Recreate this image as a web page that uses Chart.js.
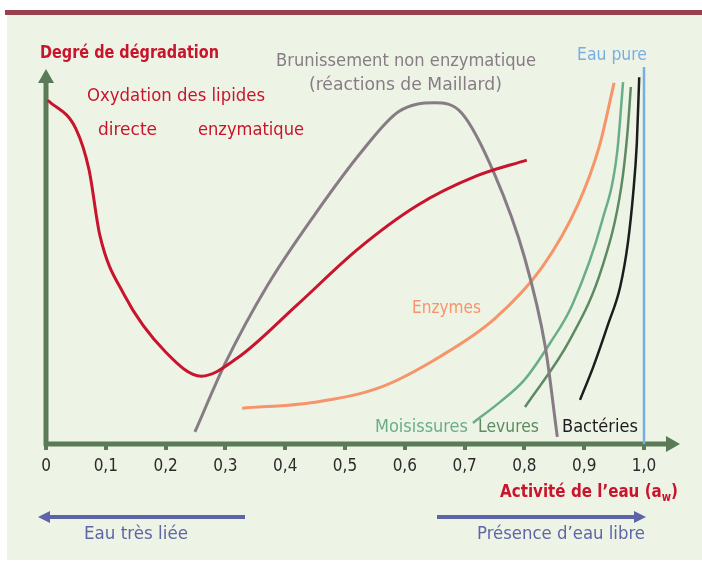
<!DOCTYPE html>
<html>
<head>
<meta charset="utf-8">
<script src="https://cdn.jsdelivr.net/npm/chart.js@4.4.1/dist/chart.umd.min.js"></script>
<style>
  html, body { margin: 0; padding: 0; background: #fff; }
  canvas { display: block; }
</style>
</head>
<body>
<canvas id="awChart" width="702" height="561"></canvas>
<script>
// Données (x = activité de l'eau, y = degré de dégradation, échelle arbitraire 0-100)
const tickLabels = ['0', '0,1', '0,2', '0,3', '0,4', '0,5', '0,6', '0,7', '0,8', '0,9', '1,0'];

const lipidesX = [0.003, 0.05, 0.072, 0.09, 0.13, 0.20, 0.26, 0.32, 0.42, 0.52, 0.62, 0.72, 0.804];
const lipidesY = [91.2, 83.6, 72.7, 55.4, 39.8, 24.4, 18.0, 22.8, 36.9, 51.5, 63.2, 71.1, 75.3];

const maillardX = [0.249, 0.30, 0.37, 0.45, 0.53, 0.59, 0.65, 0.695, 0.75, 0.80, 0.835, 0.855];
const maillardY = [3.2, 21.5, 42.0, 61.0, 78.0, 88.2, 90.5, 87.8, 71.6, 49.6, 25.7, 1.9];

const enzymesX = [0.328, 0.45, 0.56, 0.66, 0.75, 0.83, 0.89, 0.925, 0.95];
const enzymesY = [9.5, 11.1, 15.1, 23.3, 33.2, 47.0, 63.7, 78.8, 95.8];

const moisissuresX = [0.714, 0.759, 0.80, 0.843, 0.88, 0.93, 0.955, 0.965];
const moisissuresY = [5.6, 11.1, 17.0, 26.8, 36.9, 59.2, 77.2, 96.0];

const levuresX = [0.801, 0.876, 0.93, 0.962, 0.972, 0.978];
const levuresY = [9.8, 27.6, 46.9, 68.2, 82.0, 94.7];

const bacteriesX = [0.893, 0.915, 0.94, 0.96, 0.973, 0.982, 0.988, 0.992];
const bacteriesY = [11.7, 20.4, 31.8, 41.6, 53.3, 66.6, 79.8, 97.3];

const eauPureX = [1.0, 1.0];
const eauPureY = [0, 100];

const FONT = "'DejaVu Sans Condensed', 'DejaVu Sans', sans-serif";
const GREEN_AXIS = '#5a7a58';
const RED = '#c8142c';

function pts(xs, ys) {
  return xs.map((x, i) => ({ x: x, y: ys[i] }));
}

function courbe(xs, ys, color, width) {
  return {
    data: pts(xs, ys),
    borderColor: color,
    borderWidth: width,
    pointRadius: 0,
    fill: false,
    clip: false,
    cubicInterpolationMode: 'monotone'
  };
}

// texte ajusté à une largeur donnée
function fitText(ctx, str, left, right, cy, font, color) {
  ctx.save();
  ctx.font = font;
  ctx.fillStyle = color;
  ctx.textBaseline = 'middle';
  ctx.textAlign = 'left';
  const w = ctx.measureText(str).width;
  ctx.translate(left, cy);
  ctx.scale((right - left) / w, 1);
  ctx.fillText(str, 0, 0);
  ctx.restore();
}

function arrowHead(ctx, tipX, tipY, dir, len, half, color) {
  ctx.fillStyle = color;
  ctx.beginPath();
  if (dir === 'up') {
    ctx.moveTo(tipX, tipY);
    ctx.lineTo(tipX - half, tipY + len);
    ctx.lineTo(tipX + half, tipY + len);
  } else if (dir === 'right') {
    ctx.moveTo(tipX, tipY);
    ctx.lineTo(tipX - len, tipY - half);
    ctx.lineTo(tipX - len, tipY + half);
  } else {
    ctx.moveTo(tipX, tipY);
    ctx.lineTo(tipX + len, tipY - half);
    ctx.lineTo(tipX + len, tipY + half);
  }
  ctx.closePath();
  ctx.fill();
}

const decor = {
  id: 'decor',
  beforeDraw(chart) {
    const ctx = chart.ctx;
    ctx.save();
    ctx.fillStyle = '#ffffff';
    ctx.fillRect(0, 0, chart.width, chart.height);
    ctx.fillStyle = '#eef4e5';
    ctx.fillRect(7, 15, chart.width - 7, 545);
    ctx.fillStyle = '#99404e';
    ctx.fillRect(5, 10, chart.width - 5, 5);
    ctx.restore();
  },
  beforeDatasetsDraw(chart) {
    const ctx = chart.ctx;
    const x0 = chart.scales.x.getPixelForValue(0);
    const y0 = chart.scales.y.getPixelForValue(0);
    ctx.save();
    ctx.strokeStyle = GREEN_AXIS;
    ctx.lineWidth = 5;
    ctx.beginPath();
    ctx.moveTo(x0, y0 + 2);
    ctx.lineTo(x0, 82);
    ctx.moveTo(x0 - 2, y0);
    ctx.lineTo(666, y0);
    ctx.stroke();
    arrowHead(ctx, x0, 69, 'up', 14, 8, GREEN_AXIS);
    arrowHead(ctx, 680, y0, 'right', 14, 8, GREEN_AXIS);
    ctx.restore();
  },
  afterDatasetsDraw(chart) {
    const ctx = chart.ctx;
    ctx.save();
    fitText(ctx, 'Degré de dégradation', 40, 219, 53, 'bold 18px ' + FONT, RED);
    fitText(ctx, 'Brunissement non enzymatique', 276, 536, 61, '18px ' + FONT, '#877c85');
    fitText(ctx, '(réactions de Maillard)', 309, 502, 85, '18px ' + FONT, '#877c85');
    fitText(ctx, 'Eau pure', 577, 647, 55, '18px ' + FONT, '#79aee2');
    fitText(ctx, 'Oxydation des lipides', 87, 265, 96, '18px ' + FONT, RED);
    fitText(ctx, 'directe', 98, 157, 130, '18px ' + FONT, RED);
    fitText(ctx, 'enzymatique', 198, 304, 130, '18px ' + FONT, RED);
    fitText(ctx, 'Enzymes', 412, 481, 308, '18px ' + FONT, '#f7946a');
    fitText(ctx, 'Moisissures', 375, 468, 427, '18px ' + FONT, '#6aae88');
    fitText(ctx, 'Levures', 478, 539, 427, '18px ' + FONT, '#5e8a62');
    fitText(ctx, 'Bactéries', 562, 638, 427, '18px ' + FONT, '#1c1c1c');

    // titre de l'axe x avec indice
    const main = 'Activité de l’eau (a';
    const fMain = 'bold 18px ' + FONT;
    const fSub = 'bold 12px ' + FONT;
    ctx.font = fMain;
    const wMain = ctx.measureText(main).width;
    const wClose = ctx.measureText(')').width;
    ctx.font = fSub;
    const wSub = ctx.measureText('w').width;
    const total = wMain + wSub + wClose;
    const left = 500, right = 678, cy = 492;
    ctx.translate(left, cy);
    ctx.scale((right - left) / total, 1);
    ctx.fillStyle = RED;
    ctx.textBaseline = 'middle';
    ctx.font = fMain;
    ctx.fillText(main, 0, 0);
    ctx.fillText(')', wMain + wSub, 0);
    ctx.font = fSub;
    ctx.fillText('w', wMain, 6);
    ctx.setTransform(1, 0, 0, 1, 0, 0);

    // flèches du bas
    const blue = '#5e64a8';
    ctx.strokeStyle = blue;
    ctx.lineWidth = 4;
    ctx.beginPath();
    ctx.moveTo(48, 517);
    ctx.lineTo(245, 517);
    ctx.moveTo(437, 517);
    ctx.lineTo(636, 517);
    ctx.stroke();
    arrowHead(ctx, 38, 517, 'left', 12, 6, blue);
    arrowHead(ctx, 646, 517, 'right', 12, 6, blue);
    fitText(ctx, 'Eau très liée', 84, 188, 534, '18px ' + FONT, '#5f66a8');
    fitText(ctx, 'Présence d’eau libre', 477, 645, 534, '18px ' + FONT, '#5f66a8');
    ctx.restore();
  }
};

const datasets = [
  courbe(lipidesX, lipidesY, RED, 3),
  courbe(maillardX, maillardY, '#877c85', 3),
  courbe(enzymesX, enzymesY, '#f7946a', 3),
  courbe(moisissuresX, moisissuresY, '#6aae88', 2.5),
  courbe(levuresX, levuresY, '#5e8a62', 2.5),
  courbe(bacteriesX, bacteriesY, '#1c1c1c', 2.5),
  { data: pts(eauPureX, eauPureY), borderColor: '#79aee2', borderWidth: 2.5, pointRadius: 0, tension: 0, fill: false, clip: false }
];

new Chart(document.getElementById('awChart'), {
  type: 'line',
  data: { datasets: datasets },
  options: {
    responsive: false,
    animation: false,
    layout: { padding: { left: 46, right: 58, top: 67, bottom: 0 } },
    plugins: { legend: { display: false }, tooltip: { enabled: false } },
    scales: {
      x: {
        type: 'linear',
        min: 0,
        max: 1,
        afterFit: (axis) => { axis.height = 117; },
        border: { display: false },
        grid: { drawOnChartArea: false, drawTicks: true, tickLength: 6, color: GREEN_AXIS, lineWidth: 4 },
        ticks: {
          stepSize: 0.1,
          autoSkip: false,
          maxRotation: 0,
          padding: 6,
          color: '#2a2a2a',
          font: { family: FONT, size: 17 },
          callback: (v) => tickLabels[Math.round(v * 10)]
        }
      },
      y: {
        display: false,
        min: 0,
        max: 100
      }
    }
  },
  plugins: [decor]
});
</script>
</body>
</html>
